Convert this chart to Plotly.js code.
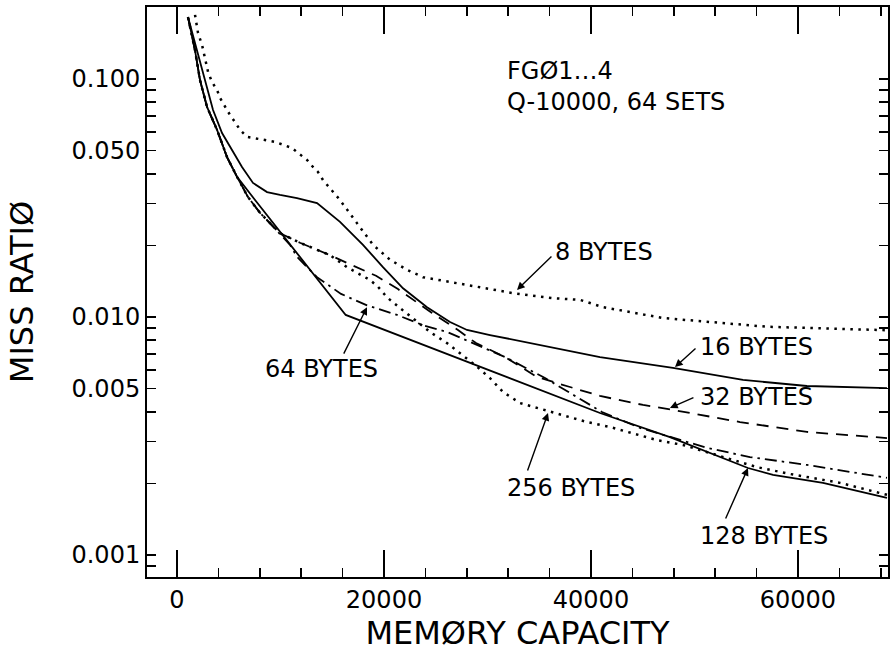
<!DOCTYPE html>
<html><head><meta charset="utf-8">
<script src="https://cdn.plot.ly/plotly-3.0.1.min.js"></script>
<style>html,body{margin:0;padding:0;background:#fff}</style>
</head><body><div id="chart" style="width:894px;height:652px"></div>
<script>
// ---- data (memory capacity in bytes, miss ratio) ----
const x8 = [1740,2030,2420,2710,3000,3380,3870,4160,4640,5120,5600,6090,6760,7540,8500,9470,10240,11110,11690,12560,13140,13620,14110,15750,17390,18940,20580,22220,23770,25410,27050,28990,32460,36330,38940,41160,46960,57010,68600];
const y8 = [0.186,0.156,0.139,0.120,0.107,0.0971,0.0899,0.0832,0.0763,0.0706,0.0660,0.0611,0.0571,0.0565,0.0554,0.0544,0.0528,0.0513,0.0489,0.0457,0.0427,0.0407,0.0376,0.0310,0.0248,0.0201,0.0174,0.0158,0.0147,0.0143,0.0139,0.0134,0.0126,0.0120,0.0118,0.0110,0.0099,0.0091,0.0088];

const x16 = [1060,1930,2710,3480,4350,5310,6280,7340,8700,9950,11590,13530,15750,17970,19900,21840,24160,26380,28020,30240,36040,40870,47920,54690,60870,68600];
const y16 = [0.182,0.132,0.0990,0.0741,0.0593,0.0503,0.0427,0.0366,0.0335,0.0326,0.0316,0.0301,0.0251,0.0201,0.0162,0.0132,0.0110,0.00953,0.00882,0.00840,0.00748,0.00679,0.00611,0.00544,0.00513,0.00503];

const x32 = [1060,1740,2220,2900,3870,4830,5800,6860,8020,9950,11880,14780,16910,19230,21350,24640,27150,28890,31690,34780,37970,40870,45030,47920,54400,60870,68600];
const y32 = [0.182,0.132,0.0990,0.0763,0.0611,0.0470,0.0388,0.0319,0.0274,0.0225,0.0205,0.0182,0.0165,0.0149,0.0131,0.0104,0.00882,0.00777,0.00679,0.00560,0.00508,0.00466,0.00427,0.00407,0.00362,0.00329,0.00310];

const x64 = [1060,1740,2220,2900,3870,4830,5800,6860,8020,10920,11590,13530,15850,18360,21260,23960,26090,28310,31690,35560,38650,41060,44740,47920,51210,55360,60870,68600];
const y64 = [0.182,0.132,0.0990,0.0763,0.0611,0.0470,0.0388,0.0319,0.0274,0.0201,0.0179,0.0147,0.0125,0.0112,0.0102,0.00917,0.00865,0.00785,0.00679,0.00554,0.00461,0.00399,0.00342,0.00310,0.00282,0.00258,0.00239,0.00211];

const x128 = [1060,1740,2220,2900,3870,4830,5800,7540,16300,32850,40870,47630,55170,57590,62420,68600];
const y128 = [0.182,0.132,0.0990,0.0763,0.0611,0.0470,0.0388,0.0310,0.0102,0.00538,0.00395,0.00313,0.00232,0.00217,0.00201,0.00174];

const x256 = [1060,1740,2220,2900,3870,4830,5800,6860,8020,9950,11880,14780,16520,17390,18650,19420,20290,21550,23000,24450,26090,27340,28790,30240,31500,33140,34780,36040,37970,39610,41840,43770,46380,48890,52760,56040,59230,64060,68600];
const y256 = [0.182,0.132,0.0990,0.0763,0.0611,0.0470,0.0388,0.0319,0.0274,0.0225,0.0205,0.0182,0.0161,0.0153,0.0143,0.0134,0.0121,0.0109,0.00971,0.00865,0.00777,0.00706,0.00629,0.00554,0.00484,0.00435,0.00415,0.00399,0.00380,0.00362,0.00345,0.00326,0.00304,0.00290,0.00258,0.00234,0.00219,0.00201,0.00179];

const seriesNames = ['8 BYTES','16 BYTES','32 BYTES','64 BYTES','128 BYTES','256 BYTES'];

const xTickVals = [0,20000,40000,60000];
const xTickText = ['0','20000','40000','60000'];
const xMinorVals = [4000,8000,12000,16000,24000,28000,32000,36000,44000,48000,52000,56000,64000,68000];
const yTickVals = [0.001,0.005,0.01,0.05,0.1];
const yTickText = ['0.001','0.005','0.010','0.050','0.100'];
const yDecadeVals = [0.001,0.01,0.1];
const yMinorVals = [0.0009,0.002,0.003,0.004,0.006,0.007,0.008,0.009,0.02,0.03,0.04,0.06,0.07,0.08,0.09];

const infoLines = ['FGØ1…4','Q-10000, 64 SETS'];

// ---- drawing ----
const FONT = 'DejaVu Sans, sans-serif';
const K = '#000';
function tr(x, y, name, dash, w) {
  return {x: x, y: y, name: name, type: 'scatter', mode: 'lines',
          line: {color: K, width: w, dash: dash}, hoverinfo: 'skip'};
}
const data = [
  tr(x8, y8, seriesNames[0], '2.5px,5.5px', 2.5),
  tr(x16, y16, seriesNames[1], 'solid', 1.8),
  tr(x32, y32, seriesNames[2], '12px,8px', 1.8),
  tr(x64, y64, seriesNames[3], '12px,5px,2.5px,5px', 1.8),
  tr(x128, y128, seriesNames[4], 'solid', 1.8),
  tr(x256, y256, seriesNames[5], '2.5px,5.5px', 2.5)
];

const L = Math.log10;
function label(text, x, y) {
  return {text: text, x: x, y: L(y), xref: 'x', yref: 'y', showarrow: false,
          xanchor: 'left', yanchor: 'middle', font: {family: FONT, size: 24, color: K}};
}
function arrow(x, y, ax, ay) {
  return {text: '', x: x, y: L(y), xref: 'x', yref: 'y', showarrow: true,
          ax: ax, ay: ay, arrowhead: 2, arrowsize: 1.1, arrowwidth: 1.4,
          arrowcolor: K, standoff: 0, startstandoff: 0};
}

const annotations = [
  label(infoLines[0], 31700, 0.108),
  label(infoLines[1], 31700, 0.080),
  label(seriesNames[0], 36300, 0.01876),
  label(seriesNames[1], 50300, 0.00748),
  label(seriesNames[2], 50300, 0.00461),
  label(seriesNames[3], 8300, 0.00605),
  label(seriesNames[4], 50300, 0.00120),
  label(seriesNames[5], 31700, 0.00191),
  arrow(32850, 0.01299, 36, -35),
  arrow(48120, 0.00616, 22, -20),
  arrow(47630, 0.00415, 25, -11),
  arrow(18360, 0.0110, -24, 48),
  arrow(35850, 0.00395, -21, 59),
  arrow(55170, 0.00232, -23, 52)
];

const axisCommon = {showline: true, linewidth: 2, linecolor: K, mirror: 'ticks',
  ticks: 'inside', tickcolor: K, tickwidth: 1.6, showgrid: false, zeroline: false};

const layout = {
  width: 894, height: 652,
  margin: {l: 147, r: 6, t: 7, b: 75},
  paper_bgcolor: '#fff', plot_bgcolor: '#fff',
  showlegend: false,
  font: {family: FONT, color: K},
  xaxis: Object.assign({}, axisCommon, {
    range: [-2900, 68700], tickmode: 'array', tickvals: xTickVals, ticktext: xTickText,
    ticklen: 27, tickfont: {family: FONT, size: 24, color: K},
    minor: {tickvals: xMinorVals, ticks: 'inside', ticklen: 9, tickwidth: 1.6, tickcolor: K, showgrid: false},
    title: {text: 'MEMØRY CAPACITY', font: {family: FONT, size: 32, color: K}, standoff: 5}
  }),
  yaxis: Object.assign({}, axisCommon, {
    type: 'log', range: [-3.0924, -0.6975], tickmode: 'array', tickvals: yTickVals, ticktext: yTickText,
    ticklen: 9, tickfont: {family: FONT, size: 24, color: K},
    minor: {tickvals: yMinorVals, ticks: 'inside', ticklen: 9, tickwidth: 1.6, tickcolor: K, showgrid: false},
    title: {text: 'MISS RATIØ', font: {family: FONT, size: 32, color: K}, standoff: 28}
  }),
  yaxis2: Object.assign({}, axisCommon, {
    type: 'log', range: [-3.0924, -0.6975], overlaying: 'y', side: 'left', anchor: 'x',
    tickmode: 'array', tickvals: yDecadeVals, ticklen: 27, showticklabels: false
  }),
  annotations: annotations
};

Plotly.newPlot('chart', data, layout, {staticPlot: true, displayModeBar: false});
</script></body></html>
